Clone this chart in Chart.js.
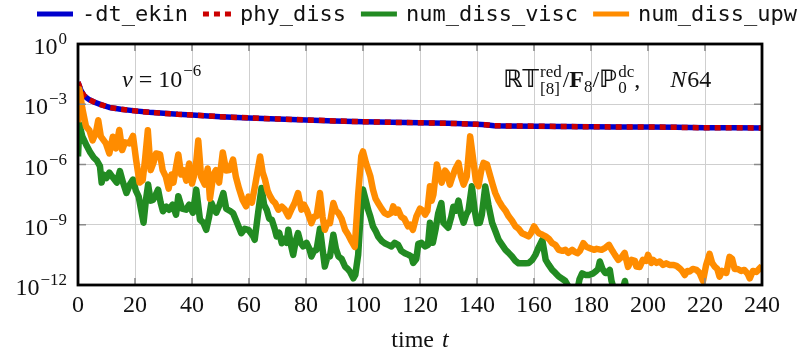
<!DOCTYPE html>
<html>
<head>
<meta charset="utf-8">
<script src="https://cdn.jsdelivr.net/npm/chart.js@4.4.1/dist/chart.umd.min.js"></script>
<style>
  html, body { margin: 0; padding: 0; background: #ffffff; }
  #wrap { width: 806px; height: 359px; }
</style>
</head>
<body>
<div id="wrap"><canvas id="chart" width="806" height="359"></canvas></div>
<script>
// ---- data: dissipation rates over time (values given as powers of ten) ----
const seriesLabels = ['-dt_ekin', 'phy_diss', 'num_diss_visc', 'num_diss_upw'];

const ekinTime = [0, 0.5, 1, 2, 3, 4, 5.5, 8, 11, 15, 20, 25, 30, 35, 40, 50, 60, 70, 80, 90,
  100, 110, 120, 130, 140, 143, 146, 150, 160, 170, 180, 190, 200, 210, 220, 230, 240];
const ekinExp = [-1.9, -2.1, -2.3, -2.55, -2.68, -2.78, -2.88, -3.02, -3.16, -3.25, -3.33, -3.4, -3.45, -3.5, -3.53, -3.62, -3.68, -3.73, -3.78, -3.83,
  -3.87, -3.9, -3.92, -3.95, -4.0, -4.02, -4.07, -4.08, -4.09, -4.11, -4.12, -4.13, -4.13, -4.15, -4.17, -4.17, -4.18];
const phyExp = [-1.9, -2.1, -2.3, -2.55, -2.68, -2.78, -2.88, -3.02, -3.16, -3.25, -3.33, -3.4, -3.45, -3.5, -3.53, -3.62, -3.68, -3.73, -3.78, -3.83,
  -3.87, -3.9, -3.92, -3.95, -4.0, -4.02, -4.07, -4.08, -4.09, -4.11, -4.12, -4.13, -4.13, -4.15, -4.17, -4.17, -4.18];

const viscTime = [0, 0.5, 1.5, 3.1, 4.3, 5.5, 6.6, 7.7, 8.3, 9, 10, 11, 12, 13.6, 14.7, 15.8, 17, 18.2, 19.3, 20.3,
  21.3, 22.2, 23, 23.8, 24.6, 25.5, 26.4, 27.3, 28.1, 29, 29.8, 31, 32, 33.2, 34.4, 35.2, 36.5, 37.9, 39, 40.3,
  41.5, 42.8, 44, 45, 46, 46.8, 47.7, 48.5, 49.7, 51, 52, 53.2, 54.4, 55.8, 57.3, 58.5, 59.8, 61.5, 62, 63.3,
  64.4, 65.3, 66.2, 67.1, 68, 69, 69.7, 70.6, 71.5, 72.3, 73.2, 73.8, 74.7, 75.5, 76.4, 77.2, 78.1, 79, 80.2, 81.2,
  81.9, 82.8, 83.7, 84.9, 85.8, 86.6, 87.5, 88.4, 89.6, 90.5, 91.4, 92.5, 93.7, 94.6, 95.4, 96.6, 97.3, 98.3, 99.2, 100,
  101, 101.8, 102.6, 103.5, 104.4, 105.3, 106.5, 107.6, 108.8, 110, 111.1, 112.3, 113.4, 114.7, 116, 117, 117.6, 118.7, 119.4, 120.5,
  121.8, 122.8, 123.5, 124.5, 125.5, 126.4, 127.5, 128.2, 129.9, 131, 131.7, 132.6, 133.5, 134.4, 135.3, 136.2, 137, 138.2, 139.2, 140,
  141, 141.7, 142.9, 144, 145.3, 146.4, 147.6, 148.8, 150, 151.1, 152.3, 153.5, 154.6, 155.8, 157, 158.2, 159.4, 160.5, 161.7, 162.9,
  164.1, 165.2, 166.4, 167.5, 168.7, 170, 171, 171.8, 172.6, 173.8, 175, 176, 176.9, 178, 179.3, 180.8, 181.8, 182.5, 183.1, 184,
  185, 185.5, 186.6, 187.2, 187.8, 189, 190.5, 191.9, 192.6, 195, 200, 210, 220, 230, 240];
const viscExp = [-5.6, -4.0, -4.6, -5.08, -5.4, -5.65, -5.8, -6.08, -6.9, -6.5, -6.67, -6.4, -6.6, -6.9, -6.33, -6.9, -7.42, -7.0, -6.75, -7.3,
  -7.6, -8.3, -8.9, -7.8, -7.0, -7.8, -7.75, -7.5, -7.25, -7.9, -8.33, -8.1, -8.25, -8.0, -8.5, -7.58, -8.2, -8.25, -8.0, -8.4,
  -7.25, -8.75, -8.9, -9.25, -8.6, -7.9, -8.2, -8.4, -8.0, -7.42, -8.2, -8.3, -8.42, -8.9, -9.42, -9.2, -9.25, -9.58, -9.75, -8.3,
  -7.17, -8.0, -8.25, -8.7, -8.75, -9.2, -9.58, -9.4, -9.92, -9.7, -9.9, -9.25, -10.0, -10.5, -9.8, -9.42, -9.9, -10.08, -9.9, -10.2,
  -10.58, -10.3, -10.25, -9.2, -10.2, -11.08, -10.6, -10.58, -9.5, -10.2, -10.58, -10.7, -11.08, -11.2, -11.33, -11.67, -11.5, -10.5, -8.4, -7.25,
  -7.8, -8.25, -8.6, -9.08, -9.3, -9.58, -9.8, -9.92, -10.0, -10.08, -9.9, -10.0, -10.3, -10.42, -10.5, -10.58, -10.9, -10.7, -9.95, -9.9,
  -10.08, -10.0, -8.9, -9.9, -9.2, -8.42, -7.92, -8.9, -9.15, -8.6, -8.1, -8.3, -7.8, -8.5, -8.9, -8.5, -8.3, -7.08, -8.3, -8.92,
  -8.9, -8.5, -7.1, -8.0, -8.9, -9.3, -9.75, -10.0, -10.25, -10.4, -10.58, -10.8, -10.92, -10.92, -10.92, -10.9, -10.75, -10.5, -10.1, -9.75,
  -10.75, -11.0, -11.25, -11.4, -11.58, -11.7, -11.8, -12.0, -12.2, -12.3, -12.4, -11.7, -11.42, -11.5, -11.5, -11.42, -11.3, -11.2, -10.83, -11.2,
  -11.4, -11.4, -11.25, -11.8, -12.1, -12.5, -12.6, -11.8, -12.4, -12.7, -12.9, -13.1, -13.2, -13.3, -13.3];

const upwTime = [0, 0.5, 1.5, 2.8, 4, 5.1, 6.3, 7.1, 8, 9.8, 11, 12.2, 13.3, 14.5, 15.5, 16.5, 18, 19.3, 20.4, 21.6,
  22.7, 23.5, 24.5, 25.5, 26.5, 27.4, 28.8, 29.7, 30.8, 31.8, 32.8, 33.5, 34.4, 35.2, 36.2, 37, 38, 39, 40, 41.2,
  42.2, 43.2, 44.5, 45.5, 46.3, 47.5, 48.4, 49.5, 50.8, 52, 53.1, 54.4, 55.4, 56.5, 57.8, 59, 59.8, 61, 62.1, 63.9,
  64.8, 65.6, 66.5, 67.4, 68.3, 69.2, 70.3, 71.5, 72.6, 73.8, 75, 76, 77.2, 78.4, 79.3, 80.2, 81.9, 82.8, 83.7, 84.9,
  85.8, 86.6, 87.5, 88.4, 89.6, 90.5, 91.4, 92.5, 93.7, 94.8, 96, 97.1, 98.3, 99.4, 100, 101, 101.8, 102.6, 103.5, 104.4,
  105.3, 106.5, 107.6, 108.8, 110, 110.6, 111.5, 112.3, 113.4, 114.5, 115.8, 116.6, 117.5, 118.7, 120, 121, 121.8, 122.6, 123.5, 124.1,
  124.7, 125.9, 126.8, 127.6, 128.8, 129.4, 130.5, 131.4, 132.3, 133.5, 134.4, 135.3, 136.4, 137.6, 138.8, 139.6, 140.5, 141.5, 142.3, 143.5,
  144.7, 145.5, 146.4, 147.6, 148.8, 150, 151.1, 152.3, 153.5, 154.6, 155.8, 157, 158.1, 159, 160, 161, 161.7, 163, 164.1, 165.2,
  166.4, 167.5, 168.7, 170, 171, 172, 173.4, 174.3, 175.2, 176.1, 177.3, 178.4, 179.6, 181, 182, 183.7, 185, 186.3, 187.5, 188.4,
  189.6, 190.8, 191.8, 193, 194.2, 195.4, 195.9, 197.1, 198.2, 199.4, 200, 201.2, 201.8, 203, 204.1, 205.3, 206.4, 207.5, 208.8, 210,
  211.1, 212, 212.9, 213.8, 214.6, 215.7, 217, 218.1, 219.3, 220.4, 221.6, 222.5, 223.4, 224.3, 225.1, 226, 227.5, 228.6, 229.5, 230.4,
  231.5, 232.7, 233.8, 235, 235.7, 236.8, 238, 239.2, 240];
const upwExp = [-3.9, -2.25, -3.2, -4.1, -4.3, -4.8, -4.4, -3.8, -4.6, -4.95, -5.45, -4.62, -5.2, -4.28, -5.28, -4.9, -4.95, -4.58, -5.78, -6.9,
  -6.78, -5.8, -4.3, -6.28, -5.9, -5.45, -5.5, -6.28, -6.6, -7.2, -6.5, -6.9, -6.12, -5.5, -6.5, -6.28, -6.8, -5.95, -6.95, -6.3,
  -4.8, -6.62, -7.0, -6.2, -7.7, -6.5, -6.28, -6.9, -5.4, -6.3, -6.28, -5.75, -6.62, -7.2, -7.78, -8.08, -7.6, -7.9, -7.08, -5.6,
  -6.4, -6.75, -7.3, -7.58, -7.8, -7.92, -8.25, -8.1, -8.25, -8.58, -8.2, -7.92, -7.42, -8.25, -8.0, -8.25, -8.92, -8.6, -8.58, -7.42,
  -8.6, -9.25, -8.9, -8.92, -7.92, -8.3, -8.42, -8.7, -9.25, -9.5, -9.83, -10.1, -7.5, -5.58, -5.35, -5.9, -6.25, -6.6, -7.25, -7.7,
  -7.92, -8.2, -8.42, -8.5, -8.4, -8.08, -8.4, -8.25, -8.6, -8.7, -9.08, -9.0, -9.25, -8.6, -8.2, -8.3, -8.5, -8.3, -7.08, -7.8,
  -7.5, -6.0, -6.5, -6.9, -6.3, -6.42, -7.0, -6.6, -6.25, -5.92, -6.6, -7.0, -6.6, -4.6, -5.9, -6.8, -7.08, -6.3, -5.92, -6.0,
  -6.6, -7.0, -7.42, -7.8, -8.08, -8.3, -8.58, -8.8, -9.08, -9.2, -9.42, -9.5, -9.58, -9.4, -9.08, -9.3, -9.42, -9.5, -9.58, -9.7,
  -9.92, -10.0, -10.25, -10.3, -10.25, -10.4, -10.25, -10.35, -10.42, -10.3, -9.92, -10.1, -10.17, -10.25, -10.2, -10.25, -10.15, -10.0, -10.3, -10.5,
  -10.75, -10.6, -10.4, -11.1, -10.75, -10.8, -11.08, -11.1, -10.75, -10.8, -10.5, -10.9, -10.75, -10.9, -10.83, -11.0, -10.92, -11.0, -11.0, -11.05,
  -11.17, -11.3, -11.5, -11.3, -11.33, -11.2, -11.25, -11.4, -11.8, -11.0, -10.45, -10.9, -11.08, -11.2, -11.58, -11.3, -11.4, -10.6, -10.7, -11.2,
  -11.2, -11.3, -11.25, -11.45, -11.67, -11.3, -11.35, -11.17, -11.05];

const xTickValues = [0, 20, 40, 60, 80, 100, 120, 140, 160, 180, 200, 220, 240];
const yTickExponents = [0, -3, -6, -9, -12];

// ---- drawing helpers ----
const SERIF = '"Liberation Serif", "DejaVu Serif", serif';
const MATH = '"DejaVu Serif", "DejaVu Sans", "Liberation Serif", serif';
const MONO = '"DejaVu Sans Mono", "Liberation Mono", monospace';

const toPoints = (ts, es) => ts.map((t, i) => ({ x: t, y: Math.pow(10, es[i]) }));

// draws a sequence of text runs; a run may stack a superscript over a subscript
function drawRuns(ctx, x, y, runs) {
  ctx.textAlign = 'left';
  ctx.textBaseline = 'alphabetic';
  for (const r of runs) {
    ctx.font = r.font;
    if (r.stack) {
      const w = Math.max(...r.stack.map(s => ctx.measureText(s).width));
      r.stack.forEach((s, k) => ctx.fillText(s, x, y + r.dy[k]));
      x += w + (r.gap || 0);
    } else {
      ctx.fillText(r.t, x, y + (r.dy || 0));
      x += ctx.measureText(r.t).width + (r.gap || 0);
    }
  }
  return x;
}
function runsWidth(ctx, runs) {
  let w = 0;
  for (const r of runs) {
    ctx.font = r.font;
    if (r.stack) w += Math.max(...r.stack.map(s => ctx.measureText(s).width)) + (r.gap || 0);
    else w += ctx.measureText(r.t).width + (r.gap || 0);
  }
  return w;
}

const frameAndText = {
  id: 'frameAndText',
  afterDatasetsDraw(chart) {
    const { ctx, chartArea: a, scales } = chart;
    ctx.save();
    // inner tick marks on all four sides
    ctx.strokeStyle = '#8a8a8a';
    ctx.lineWidth = 1.6;
    ctx.beginPath();
    for (const v of xTickValues) {
      const px = scales.x.getPixelForValue(v);
      ctx.moveTo(px, a.bottom); ctx.lineTo(px, a.bottom - 7);
      ctx.moveTo(px, a.top); ctx.lineTo(px, a.top + 7);
    }
    for (const e of yTickExponents) {
      const py = scales.y.getPixelForValue(Math.pow(10, e));
      ctx.moveTo(a.left, py); ctx.lineTo(a.left + 8, py);
      ctx.moveTo(a.right, py); ctx.lineTo(a.right - 8, py);
    }
    ctx.stroke();
    // axis frame
    ctx.strokeStyle = '#000';
    ctx.lineWidth = 2.8;
    ctx.strokeRect(a.left, a.top, a.right - a.left, a.bottom - a.top);
    ctx.restore();
  },
  afterDraw(chart) {
    const { ctx, chartArea: a, scales } = chart;
    ctx.save();
    ctx.fillStyle = '#111';

    // y tick labels as powers of ten
    for (const e of yTickExponents) {
      const py = scales.y.getPixelForValue(Math.pow(10, e));
      const sup = e === 0 ? '0' : '\u2212' + Math.abs(e);
      ctx.font = '17px ' + SERIF;
      const supW = ctx.measureText(sup).width;
      ctx.font = '24px ' + SERIF;
      const baseW = ctx.measureText('10').width;
      const right = a.left - 11;
      drawRuns(ctx, right - supW - baseW - 1, py + 10, [
        { t: '10', font: '24px ' + SERIF, gap: 1 },
        { t: sup, font: '17px ' + SERIF, dy: -10 }
      ]);
    }

    // x axis title
    const title = [
      { t: 'time ', font: '24px ' + SERIF, gap: 2 },
      { t: 't', font: 'italic 24px ' + SERIF }
    ];
    const tw = runsWidth(ctx, title);
    drawRuns(ctx, (a.left + a.right) / 2 - tw / 2, 347, title);

    // viscosity note
    drawRuns(ctx, a.left + 44, a.top + 43, [
      { t: '\u03BD', font: 'italic 24px ' + SERIF, gap: 6 },
      { t: '=', font: '24px ' + SERIF, gap: 6 },
      { t: '10', font: '24px ' + SERIF, gap: 1 },
      { t: '\u22126', font: '17px ' + SERIF, dy: -11 }
    ]);

    // discretisation note
    drawRuns(ctx, 503, a.top + 43, [
      { t: '\u211D\uD835\uDD4B', font: 'bold 24px ' + MATH, gap: 1 },
      { stack: ['red', '[8]'], font: '17px ' + SERIF, dy: [-10, 7], gap: 1 },
      { t: '/', font: '24px ' + SERIF },
      { t: 'F', font: 'bold 24px ' + SERIF },
      { t: '8', font: '17px ' + SERIF, dy: 5 },
      { t: '/', font: '24px ' + SERIF },
      { t: '\u2119', font: 'bold 24px ' + MATH, gap: 1 },
      { stack: ['dc', '0'], font: '17px ' + SERIF, dy: [-10, 6] },
      { t: ',', font: '24px ' + SERIF, gap: 30 },
      { t: 'N', font: 'italic 24px ' + SERIF, gap: 1 },
      { t: '64', font: '24px ' + SERIF }
    ]);

    // legend across the top
    let lx = 37;
    const ly = 14;
    chart.data.datasets.forEach((ds) => {
      const sw = ds.borderDash ? 28 : 36;
      ctx.save();
      ctx.strokeStyle = ds.borderColor;
      ctx.lineWidth = 5;
      ctx.lineCap = 'butt';
      ctx.setLineDash(ds.borderDash || []);
      ctx.beginPath();
      ctx.moveTo(lx, ly); ctx.lineTo(lx + sw, ly);
      ctx.stroke();
      ctx.restore();
      lx += sw + 9;
      ctx.font = '22px ' + MONO;
      ctx.textAlign = 'left';
      ctx.textBaseline = 'middle';
      ctx.fillStyle = '#111';
      ctx.fillText(ds.label, lx, ly + 1);
      lx += ctx.measureText(ds.label).width + 15;
    });
    ctx.restore();
  }
};

const lineStyle = { pointRadius: 0, pointHoverRadius: 0, tension: 0, fill: false, borderJoinStyle: 'round' };

new Chart(document.getElementById('chart'), {
  type: 'line',
  data: {
    datasets: [
      { ...lineStyle, label: seriesLabels[0], data: toPoints(ekinTime, ekinExp), borderColor: '#0000cd', borderWidth: 5.5, order: 4 },
      { ...lineStyle, label: seriesLabels[1], data: toPoints(ekinTime, phyExp), borderColor: '#cc0000', borderWidth: 5.5, borderDash: [6, 5], borderCapStyle: 'butt', order: 3 },
      { ...lineStyle, label: seriesLabels[2], data: toPoints(viscTime, viscExp), borderColor: '#228b22', borderWidth: 6.5, order: 2 },
      { ...lineStyle, label: seriesLabels[3], data: toPoints(upwTime, upwExp), borderColor: '#ff8c00', borderWidth: 6.5, order: 1 }
    ]
  },
  options: {
    responsive: false,
    animation: false,
    devicePixelRatio: 1,
    layout: { padding: { top: 44, right: 44, left: 0, bottom: 0 } },
    plugins: { legend: { display: false }, tooltip: { enabled: false } },
    scales: {
      x: {
        type: 'linear', min: 0, max: 240,
        afterBuildTicks: (s) => { s.ticks = xTickValues.map(v => ({ value: v })); },
        afterFit: (s) => { s.height = 74; },
        grid: { color: '#cfcfcf', lineWidth: 1, drawTicks: false },
        border: { display: false },
        ticks: { font: { family: SERIF, size: 24 }, color: '#111', padding: 6, maxRotation: 0, autoSkip: false }
      },
      y: {
        type: 'logarithmic', min: 1e-12, max: 1,
        afterBuildTicks: (s) => { s.ticks = yTickExponents.map(e => ({ value: Math.pow(10, e) })); },
        afterFit: (s) => { s.width = 78; },
        grid: { color: '#cfcfcf', lineWidth: 1, drawTicks: false },
        border: { display: false },
        ticks: { display: false }
      }
    }
  },
  plugins: [frameAndText]
});
</script>
</body>
</html>
